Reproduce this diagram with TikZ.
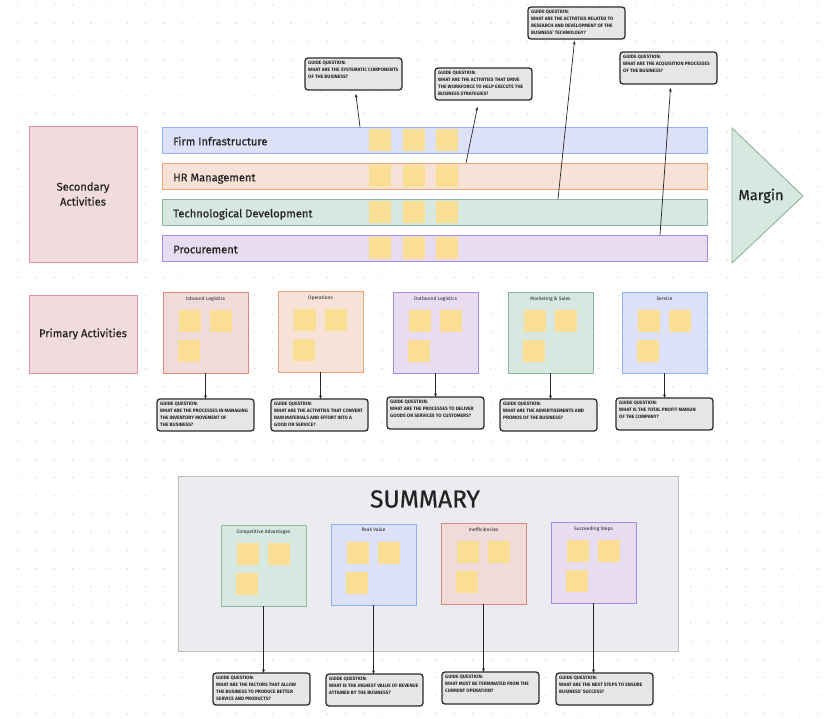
\documentclass[tikz,border=0pt]{standalone}
\usepackage{fontspec}
\setmainfont{Fira Sans}
\newfontface\medfont[FakeBold=0.5]{Fira Sans}
\usetikzlibrary{arrows.meta}
\definecolor{pinkfill}{HTML}{F0DBDD}
\definecolor{pinkline}{HTML}{E48FA5}
\definecolor{redfill}{HTML}{F0DBDB}
\definecolor{redline}{HTML}{E3867E}
\definecolor{orangefill}{HTML}{F6E2D6}
\definecolor{orangeline}{HTML}{EEA679}
\definecolor{purplefill}{HTML}{E8DCF1}
\definecolor{purpleline}{HTML}{A68BEB}
\definecolor{greenfill}{HTML}{D7E8E0}
\definecolor{greenline}{HTML}{8BB89C}
\definecolor{bluefill}{HTML}{DDE1F7}
\definecolor{blueline}{HTML}{8DB3F6}
\definecolor{stickyc}{HTML}{F9DE94}
\definecolor{guidefill}{HTML}{E6E6E6}
\definecolor{guideline}{HTML}{2B2B2B}
\definecolor{sumfill}{HTML}{EBECF0}
\definecolor{sumline}{HTML}{BCBCBC}
\definecolor{dotc}{HTML}{D2D2D2}
\definecolor{txt}{HTML}{222222}
\begin{document}
\begin{tikzpicture}[x=0.3mm,y=-0.3mm,
    sized/.style 2 args={minimum width=#1*0.3mm, minimum height=#2*0.3mm},
    box/.style={rectangle, inner sep=0pt, outer sep=0pt, anchor=north west, line width=0.8pt},
    bar/.style={box, sized={545}{26}},
    pframe/.style={box, sized={85}{81}},
    sticky/.style={box, fill=stickyc, sized={22}{22}},
    guide/.style={box, draw=guideline, fill=guidefill, rounded corners=0.9mm, line width=1.1pt, sized={97}{32}},
    guidetext/.style={anchor=north west, inner sep=0pt, align=left, text=txt, font=\fontsize{4.1}{5.9}\selectfont\bfseries},
    bartext/.style={anchor=base west, inner sep=0pt, text=txt, font=\fontsize{9.5}{12}\medfont},
    frametitle/.style={anchor=north, inner sep=0pt, text=txt, font=\fontsize{4.2}{5}\selectfont},
    guidearrow/.style={-{Stealth[length=1.1mm,width=0.9mm]}, line width=0.6pt, draw=black!85}]
  %fondo
  \fill[white] (0,0) rectangle (826,718);
  \useasboundingbox (0,0) rectangle (826,718);
  \foreach \i in {0,...,45}
    \foreach \j in {0,...,39}
      \fill[dotc] (\i*18.18,5+\j*18.18) circle (0.22mm);
  %%%% ACTIVIDADES SECUNDARIAS
  \node[box, draw=pinkline, fill=pinkfill, sized={108}{136}, align=center, text=txt,
        font=\fontsize{9.5}{12.8}\medfont] (sec) at (29,126) {Secondary\\Activities};
  \node[bar, draw=blueline, fill=bluefill] (b1) at (162,127) {};
  \node[bar, draw=orangeline, fill=orangefill] (b2) at (162,163) {};
  \node[bar, draw=greenline, fill=greenfill] (b3) at (162,199) {};
  \node[bar, draw=purpleline, fill=purplefill] (b4) at (162,235) {};
  \node[bartext] (b1-t) at ([xshift=3.3mm,yshift=-1.6mm]b1.west) {Firm Infrastructure};
  \node[bartext] (b2-t) at ([xshift=3.3mm,yshift=-1.6mm]b2.west) {HR Management};
  \node[bartext] (b3-t) at ([xshift=3.3mm,yshift=-1.6mm]b3.west) {Technological Development};
  \node[bartext] (b4-t) at ([xshift=3.3mm,yshift=-1.6mm]b4.west) {Procurement};
  \foreach \b in {b1,b2,b3,b4}
    \foreach \dx in {207,241,274}
      \node[sticky] (\b-n\dx) at ([xshift=\dx*0.3mm,yshift=-0.6mm]\b.north west) {};
  %%%MARGEN
  \draw[line width=0.8pt, draw=greenline, fill=greenfill] (732,128) -- (803,196) -- (732,263) -- cycle;
  \node[text=txt, font=\fontsize{12.5}{14}\medfont] (marg) at (761,196) {Margin};
  %%%% ACTIVIDADES PRIMARIAS
  \node[box, draw=pinkline, fill=pinkfill, sized={108}{78}, text=txt,
        font=\fontsize{9.5}{12}\medfont] (pri) at (29,295) {Primary Activities};
  \node[pframe, draw=redline, fill=redfill] (p1) at (163,292) {};
  \node[pframe, draw=orangeline, fill=orangefill] (p2) at (278,291) {};
  \node[pframe, draw=purpleline, fill=purplefill] (p3) at (393,292) {};
  \node[pframe, draw=greenline, fill=greenfill] (p4) at (508,292) {};
  \node[pframe, draw=blueline, fill=bluefill] (p5) at (622,292) {};
  %%%RESUMEN
  \node[box, draw=sumline, fill=sumfill, sized={500}{175}] (sum) at (178,476) {};
  \node[text=txt, font=\fontsize{21}{24}\medfont] (sum-t) at (425,499) {SUMMARY};
  \node[pframe, draw=greenline, fill=greenfill] (s1) at (221,525) {};
  \node[pframe, draw=blueline, fill=bluefill] (s2) at (331,524) {};
  \node[pframe, draw=redline, fill=redfill] (s3) at (441,523) {};
  \node[pframe, draw=purpleline, fill=purplefill] (s4) at (551,522) {};
  \foreach \f/\t in {p1/Inbound Logistics, p2/Operations, p3/Outbound Logistics,
      p4/Marketing \& Sales, p5/Service, s1/Competitive Advantages, s2/Peak Value,
      s3/Inefficiencies, s4/Succeeding Steps}
    \node[frametitle] (\f-t) at ([yshift=-1.2mm]\f.north) {\t};
  \foreach \f in {p1,p2,p3,p4,p5,s1,s2,s3,s4}
    \foreach \dx/\dy in {16/18,47/18,15/48}
      \node[sticky] (\f-n\dx) at ([xshift=\dx*0.3mm,yshift=-\dy*0.3mm]\f.north west) {};
  %%%% PREGUNTAS GUIA ARRIBA
  \node[guide] (q1) at (305,58) {};
  \node[guidetext] (q1-t) at ([xshift=0.9mm,yshift=-0.9mm]q1.north west) {GUIDE QUESTION:\\WHAT ARE THE SYSTEMATIC COMPONENTS\\OF THE BUSINESS?};
  \node[guide] (q2) at (435,68) {};
  \node[guidetext] (q2-t) at ([xshift=0.9mm,yshift=-0.9mm]q2.north west) {GUIDE QUESTION:\\WHAT ARE THE ACTIVITIES THAT DRIVE\\THE WORKFORCE TO HELP EXECUTE THE\\BUSINESS STRATEGIES?};
  \node[guide] (q3) at (528,7) {};
  \node[guidetext] (q3-t) at ([xshift=0.9mm,yshift=-0.9mm]q3.north west) {GUIDE QUESTION:\\WHAT ARE THE ACTIVITIES RELATED TO\\RESEARCH AND DEVELOPMENT OF THE\\BUSINESS' TECHNOLOGY?};
  \node[guide] (q4) at (620,52) {};
  \node[guidetext] (q4-t) at ([xshift=0.9mm,yshift=-0.9mm]q4.north west) {GUIDE QUESTION:\\WHAT ARE THE ACQUISITION PROCESSES\\OF THE BUSINESS?};
  \coordinate (c1) at (360,127);
  \coordinate (c2) at (466,163);
  \coordinate (c3) at (558,199);
  \coordinate (c4) at (660,235);
  \draw[guidearrow] (c1) -- ([xshift=0.7mm,yshift=-1.2mm]q1.south);
  \draw[guidearrow] (c2) -- ([xshift=-1.8mm,yshift=-2.1mm]q2.south);
  \draw[guidearrow] (c3) -- ([xshift=-0.6mm,yshift=-0.6mm]q3.south);
  \draw[guidearrow] (c4) -- ([xshift=0.6mm,yshift=-1.2mm]q4.south);
  %%%% PREGUNTAS GUIA PRIMARIAS
  \node[guide] (g1) at (157,399) {};
  \node[guidetext] (g1-t) at ([xshift=0.9mm,yshift=-0.9mm]g1.north west) {GUIDE QUESTION:\\WHAT ARE THE PROCESSES IN MANAGING\\THE INVENTORY MOVEMENT OF\\THE BUSINESS?};
  \node[guide] (g2) at (271,399) {};
  \node[guidetext] (g2-t) at ([xshift=0.9mm,yshift=-0.9mm]g2.north west) {GUIDE QUESTION:\\WHAT ARE THE ACTIVITIES THAT CONVERT\\RAW MATERIALS AND EFFORT INTO A\\GOOD OR SERVICE?};
  \node[guide] (g3) at (387,397) {};
  \node[guidetext] (g3-t) at ([xshift=0.9mm,yshift=-0.9mm]g3.north west) {GUIDE QUESTION:\\WHAT ARE THE PROCESSES TO DELIVER\\GOODS OR SERVICES TO CUSTOMERS?};
  \node[guide] (g4) at (500,399) {};
  \node[guidetext] (g4-t) at ([xshift=0.9mm,yshift=-0.9mm]g4.north west) {GUIDE QUESTION:\\WHAT ARE THE ADVERTISEMENTS AND\\PROMOS OF THE BUSINESS?};
  \node[guide] (g5) at (616,398) {};
  \node[guidetext] (g5-t) at ([xshift=0.9mm,yshift=-0.9mm]g5.north west) {GUIDE QUESTION:\\WHAT IS THE TOTAL PROFIT MARGIN\\OF THE  COMPANY?};
  \foreach \n in {1,...,5}
    \draw[guidearrow] (p\n.south) -- (p\n.south |- g\n.north);
  %%%% PREGUNTAS GUIA RESUMEN
  \node[guide] (h1) at (213,673) {};
  \node[guidetext] (h1-t) at ([xshift=0.9mm,yshift=-0.9mm]h1.north west) {GUIDE QUESTION:\\WHAT ARE THE FACTORS THAT ALLOW\\THE BUSINESS TO PRODUCE BETTER\\SERVICE AND PRODUCTS?};
  \node[guide] (h2) at (326,674) {};
  \node[guidetext] (h2-t) at ([xshift=0.9mm,yshift=-0.9mm]h2.north west) {GUIDE QUESTION:\\WHAT IS THE HIGHEST VALUE OF REVENUE\\ATTAINED BY THE BUSINESS?};
  \node[guide] (h3) at (442,672) {};
  \node[guidetext] (h3-t) at ([xshift=0.9mm,yshift=-0.9mm]h3.north west) {GUIDE QUESTION:\\WHAT MUST BE TERMINATED FROM THE\\CURRENT OPERATION?};
  \node[guide] (h4) at (556,673) {};
  \node[guidetext] (h4-t) at ([xshift=0.9mm,yshift=-0.9mm]h4.north west) {GUIDE QUESTION:\\WHAT ARE THE NEXT STEPS TO ENSURE\\BUSINESS' SUCCESS?};
  \foreach \n in {1,...,4}
    \draw[guidearrow] (s\n.south) -- (s\n.south |- h\n.north);
\end{tikzpicture}
\end{document}
